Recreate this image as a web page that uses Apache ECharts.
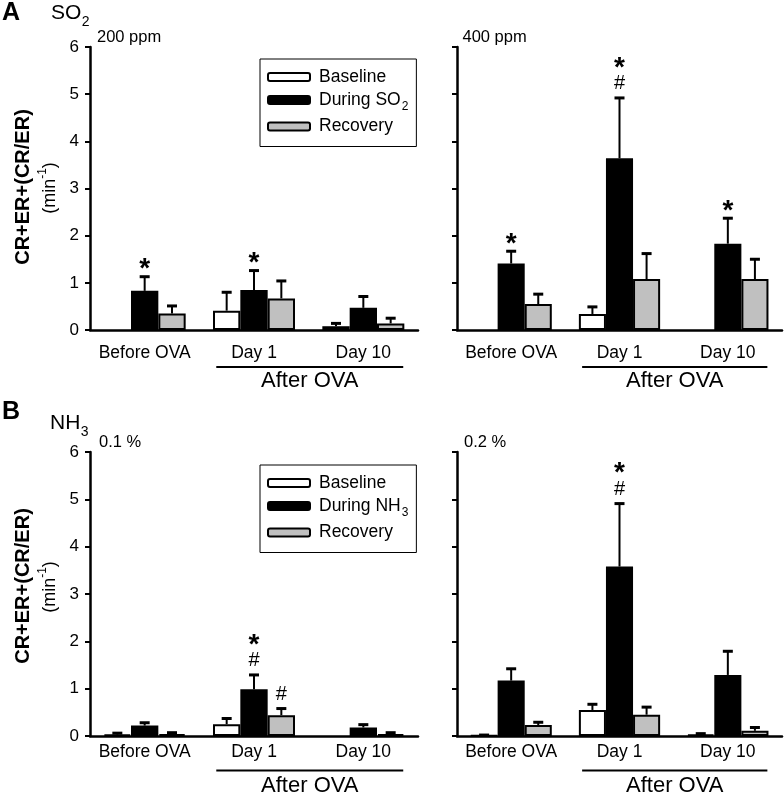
<!DOCTYPE html>
<html><head><meta charset="utf-8">
<script src="https://cdn.jsdelivr.net/npm/echarts@6/dist/echarts.min.js"></script>
<style>html,body{margin:0;padding:0;background:#fff}#c{width:784px;height:795px}</style>
</head><body><div id="c"></div>
<script>
// ---------- data ----------
const categories = ['Before OVA', 'Day 1', 'Day 10'];
const yMin = 0, yMax = 6, yStep = 1;

// A: SO2 200 ppm
const so2Low_baseline    = [0, 0.41, 0.08];
const so2Low_baselineErr = [0, 0.39, 0.06];
const so2Low_during      = [0.83, 0.85, 0.47];
const so2Low_duringErr   = [0.30, 0.41, 0.24];
const so2Low_recovery    = [0.35, 0.67, 0.14];
const so2Low_recoveryErr = [0.16, 0.37, 0.11];
const so2Low_duringMarks   = ['*', '*', ''];
const so2Low_recoveryMarks = ['', '', ''];

// A: SO2 400 ppm
const so2High_baseline    = [0, 0.34, 0];
const so2High_baselineErr = [0, 0.15, 0];
const so2High_during      = [1.41, 3.64, 1.83];
const so2High_duringErr   = [0.26, 1.28, 0.54];
const so2High_recovery    = [0.55, 1.08, 1.08];
const so2High_recoveryErr = [0.21, 0.54, 0.42];
const so2High_duringMarks   = ['*', '*#', '*'];
const so2High_recoveryMarks = ['', '', ''];

// B: NH3 0.1 %
const nh3Low_baseline    = [0.03, 0.25, 0];
const nh3Low_baselineErr = [0.03, 0.12, 0];
const nh3Low_during      = [0.22, 0.99, 0.18];
const nh3Low_duringErr   = [0.06, 0.30, 0.06];
const nh3Low_recovery    = [0.04, 0.44, 0.04];
const nh3Low_recoveryErr = [0.03, 0.14, 0.03];
const nh3Low_duringMarks   = ['', '*#', ''];
const nh3Low_recoveryMarks = ['', '#', ''];

// B: NH3 0.2 %
const nh3High_baseline    = [0.01, 0.55, 0.03];
const nh3High_baselineErr = [0.01, 0.12, 0.02];
const nh3High_during      = [1.17, 3.58, 1.29];
const nh3High_duringErr   = [0.25, 1.33, 0.50];
const nh3High_recovery    = [0.23, 0.45, 0.11];
const nh3High_recoveryErr = [0.06, 0.16, 0.07];
const nh3High_duringMarks   = ['', '*#', ''];
const nh3High_recoveryMarks = ['', '', ''];

const noMarks = ['', '', ''];
const seriesNamesA = ['Baseline', 'During SO2', 'Recovery'];
const seriesNamesB = ['Baseline', 'During NH3', 'Recovery'];
const fills = ['#ffffff', '#000000', '#c0c0c0'];

// ---------- build ----------
const FONT = '"Liberation Sans", Arial, sans-serif';
const panels = [
  {names: seriesNamesA, means: [so2Low_baseline, so2Low_during, so2Low_recovery],
   errs: [so2Low_baselineErr, so2Low_duringErr, so2Low_recoveryErr],
   marks: [noMarks, so2Low_duringMarks, so2Low_recoveryMarks],
   grid: {left: 90, top: 47, width: 328, height: 283}, labels: true, margin: 14},
  {names: seriesNamesA, means: [so2High_baseline, so2High_during, so2High_recovery],
   errs: [so2High_baselineErr, so2High_duringErr, so2High_recoveryErr],
   marks: [noMarks, so2High_duringMarks, so2High_recoveryMarks],
   grid: {left: 457, top: 47, width: 325, height: 283}, labels: false, margin: 14},
  {names: seriesNamesB, means: [nh3Low_baseline, nh3Low_during, nh3Low_recovery],
   errs: [nh3Low_baselineErr, nh3Low_duringErr, nh3Low_recoveryErr],
   marks: [noMarks, nh3Low_duringMarks, nh3Low_recoveryMarks],
   grid: {left: 90, top: 452, width: 328, height: 284}, labels: true, margin: 7},
  {names: seriesNamesB, means: [nh3High_baseline, nh3High_during, nh3High_recovery],
   errs: [nh3High_baselineErr, nh3High_duringErr, nh3High_recoveryErr],
   marks: [noMarks, nh3High_duringMarks, nh3High_recoveryMarks],
   grid: {left: 457, top: 452, width: 325, height: 284}, labels: false, margin: 7}
];

const grids = [], xAxes = [], yAxes = [], series = [];
panels.forEach((p, i) => {
  grids.push(Object.assign({outerBoundsMode: 'none'}, p.grid));
  xAxes.push({type: 'category', gridIndex: i, data: categories,
    axisLine: {lineStyle: {color: '#000', width: 2.5}}, axisTick: {show: false},
    axisLabel: {interval: 0, hideOverlap: false, fontSize: 17.5, color: '#000', margin: p.margin, fontFamily: FONT}});
  yAxes.push({type: 'value', gridIndex: i, min: yMin, max: yMax, interval: yStep,
    axisLine: {show: true, lineStyle: {color: '#000', width: 2.5}},
    axisTick: {show: true, length: 5, lineStyle: {color: '#000', width: 2}},
    axisLabel: {show: p.labels, fontSize: 17, color: '#000', margin: 11, fontFamily: FONT},
    splitLine: {show: false}});
  p.means.forEach((m, s) => {
    series.push({type: 'bar', name: p.names[s], xAxisIndex: i, yAxisIndex: i,
      data: m.map(v => (v === 0 ? '-' : v)),
      barGap: '0%', barCategoryGap: '25%',
      itemStyle: {color: fills[s], borderColor: '#000', borderWidth: 2}});
  });
  const data = [], marks = [];
  for (let s = 0; s < 3; s++) for (let c = 0; c < 3; c++) {
    data.push([c, s, p.means[s][c], p.errs[s][c]]);
    marks.push(p.marks[s][c]);
  }
  series.push({type: 'custom', xAxisIndex: i, yAxisIndex: i, z: 5, data: data,
    encode: {x: 0, y: 2}, silent: true,
    renderItem: function (params, api) {
      const c = api.value(0), s = api.value(1), mean = api.value(2), err = api.value(3);
      const band = api.size([1, 0])[0];
      const bw = band * 0.75 / 3;
      const base = api.coord([c, mean]);
      const x = base[0] + (s - 1) * bw;
      const top = api.coord([c, mean + err])[1];
      const ch = [];
      if (err > 0) {
        ch.push({type: 'line', shape: {x1: x, y1: base[1], x2: x, y2: top}, style: {stroke: '#000', lineWidth: 2}});
        ch.push({type: 'line', shape: {x1: x - 5, y1: top, x2: x + 5, y2: top}, style: {stroke: '#000', lineWidth: 3}});
      }
      const mk = marks[params.dataIndex];
      const hasHash = mk.indexOf('#') >= 0, hasStar = mk.indexOf('*') >= 0;
      if (hasHash) ch.push({type: 'text', x: x, y: top - 14, style: {text: '#', fontSize: 20, fontFamily: FONT,
        fill: '#000', align: 'center', verticalAlign: 'middle'}});
      if (hasStar) ch.push({type: 'text', x: x, y: top - (hasHash ? 36 : 13) + 6, style: {text: '*', fontSize: 28,
        fontWeight: 'bold', fontFamily: FONT, fill: '#000', align: 'center', verticalAlign: 'middle'}});
      return {type: 'group', children: ch};
    }});
});

function legendFor(names, top) {
  return {data: names, orient: 'vertical', left: 260, top: top, itemWidth: 42, itemHeight: 8, itemGap: 5,
    padding: [9, 8, 11, 7], borderColor: '#000', borderWidth: 1, selectedMode: false,
    textStyle: {fontSize: 17.5, color: '#000', fontFamily: FONT, width: 88, padding: [0, 0, 0, 4],
      rich: {sub: {fontSize: 12, fontFamily: FONT, color: '#000', padding: [13, 0, 0, 1]}}},
    formatter: n => n.replace(/(SO|NH)(\d)$/, '$1{sub|$2}')};
}

// text measuring for manual sub/superscripts
const mctx = document.createElement('canvas').getContext('2d');
function tw(text, size, weight) { mctx.font = (weight || 'normal') + ' ' + size + 'px ' + FONT; return mctx.measureText(text).width; }

const txt = (x, y, text, size, extra) => ({type: 'text', x: x, y: y,
  style: Object.assign({text: text, fontSize: size, fontFamily: FONT, fill: '#000', verticalAlign: 'middle'}, extra || {})});

function chemTitle(x, y, main, sub) {
  return [txt(x, y, main, 21), txt(x + tw(main, 21) + 0.5, y + 9, sub, 14)];
}
function unitLabel(cx, cy) {
  const w1 = tw('(min', 18), w2 = tw('-1', 12), w3 = tw(')', 18);
  const x0 = -(w1 + w2 + w3) / 2;
  return {type: 'group', x: cx, y: cy, rotation: Math.PI / 2, children: [
    txt(x0, 0, '(min', 18),
    txt(x0 + w1, -7, '-1', 12),
    txt(x0 + w1 + w2, 0, ')', 18)
  ]};
}
const yTitle = (cx, cy) => ({type: 'text', x: cx, y: cy, rotation: Math.PI / 2, style: {text: 'CR+ER+(CR/ER)', fontSize: 20,
  fontWeight: 'bold', fontFamily: FONT, fill: '#000', align: 'center', verticalAlign: 'middle'}});

const baseGraphics = [
  txt(2, 13, 'A', 25, {fontWeight: 'bold'}),
  ...chemTitle(51, 13, 'SO', '2'),
  txt(97, 37.5, '200 ppm', 16.5),
  txt(462.5, 37.5, '400 ppm', 16.5),
  txt(2, 412.5, 'B', 25, {fontWeight: 'bold'}),
  ...chemTitle(50, 423, 'NH', '3'),
  txt(99, 442.5, '0.1 %', 16.5),
  txt(464, 442.5, '0.2 %', 16.5),
  yTitle(23.5, 187), unitLabel(50, 188),
  yTitle(23.5, 586), unitLabel(50, 587)
];

const chart = echarts.init(document.getElementById('c'));
chart.setOption({
  animation: false, backgroundColor: '#fff',
  grid: grids, xAxis: xAxes, yAxis: yAxes, series: series,
  legend: [legendFor(seriesNamesA, 59), legendFor(seriesNamesB, 465)],
  graphic: baseGraphics
});

// "After OVA" group brackets, positioned from the category axes
const bracketY = [[367, 381], [367, 381], [770.5, 786], [770.5, 786]];
const extra = [];
panels.forEach((p, i) => {
  const x1c = chart.convertToPixel({xAxisIndex: i}, 1);
  const x2c = chart.convertToPixel({xAxisIndex: i}, 2);
  const band = x2c - x1c;
  const a = x1c - 0.345 * band, b = x2c + 0.365 * band;
  extra.push({type: 'line', shape: {x1: a, y1: bracketY[i][0], x2: b, y2: bracketY[i][0]}, style: {stroke: '#000', lineWidth: 2}});
  extra.push(txt((a + b) / 2, bracketY[i][1], 'After OVA', 22, {align: 'center'}));
});
chart.setOption({graphic: baseGraphics.concat(extra)});
</script></body></html>
